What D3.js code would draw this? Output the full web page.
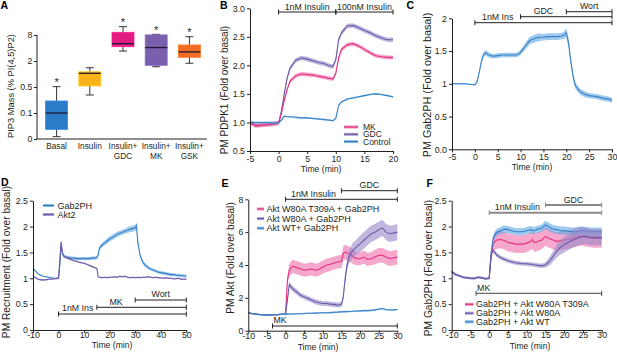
<!DOCTYPE html>
<html><head><meta charset="utf-8">
<script src="https://cdn.jsdelivr.net/npm/d3@7"></script>
<style>
body{margin:0;background:#fff;}
svg{display:block;}
</style></head><body>
<script>
// ---------------- DATA ----------------
// Panel A
const aCategories = ["Basal", "Insulin", "Insulin+|GDC", "Insulin+|MK", "Insulin+|GSK"];
const aWhiskerLow  = [0.009, 0.377, 4.3, 1.67, 1.87];
const aQ1          = [0.037, 0.56, 5.3, 1.75, 2.85];
const aMedian      = [0.10, 1.29, 6.0, 5.1, 4.1];
const aQ3          = [0.285, 1.38, 10.5, 8.1, 5.7];
const aWhiskerHigh = [0.52, 1.61, 15.7, 8.6, 7.6];
const aSignificant = [true, false, true, true, true];
const aYTicks      = [0, 0.1, 0.5, 2, 8];
const aYTickLabels = ["0", "0.1", "0.5", "2", "8"];

// Panel B
const bTime    = [-5,-4.5,-4,-3,-2,-1,0,0.5,1,1.5,2,3,4,5,6,7,8,9,9.5,10,10.5,11,12,13,14,15,16,17,18,19,20];
const bMK      = [1.00,0.97,0.94,0.95,0.96,0.97,0.99,1.16,1.39,1.58,1.72,1.82,1.85,1.84,1.83,1.81,1.79,1.77,1.76,1.86,2.13,2.28,2.36,2.38,2.34,2.28,2.22,2.17,2.15,2.14,2.14];
const bGDC     = [1.00,0.98,0.96,0.96,0.97,0.98,0.99,1.20,1.51,1.78,1.95,2.09,2.13,2.11,2.08,2.05,2.03,1.99,1.98,2.10,2.45,2.57,2.69,2.70,2.66,2.61,2.57,2.52,2.48,2.45,2.45];
const bControl = [1.00,1.00,1.00,1.00,1.00,0.99,0.99,1.04,1.11,1.10,1.10,1.09,1.08,1.08,1.07,1.06,1.05,1.04,1.03,1.07,1.30,1.36,1.41,1.43,1.45,1.47,1.49,1.50,1.49,1.47,1.45];
const bSem = {MK: 0.035, GDC: 0.04, Control: 0.015};
const bXTicks = [-5,0,5,10,15,20];
const bYTicks = [0.5,1.0,1.5,2.0,2.5,3.0];
const bYTickLabels = ["0.5","1.0","1.5","2.0","2.5","3.0"];
const bTreatments = [{label:"1nM Insulin", start:0, end:10}, {label:"100nM Insulin", start:10, end:20}];

// Panel C
const cTime    = [-5,-4,-3,-2,-1,-0.5,0,0.5,1,1.5,2,2.5,3,4,5,6,7,8,9,9.5,10,11,12,13,14,15,16,17,18,19,19.5,20,20.5,21,21.5,22,23,24,25,26,27,28,29,30];
const cGab2PH  = [1.00,1.00,1.00,1.00,0.99,0.99,0.985,1.035,1.19,1.36,1.46,1.47,1.44,1.42,1.43,1.44,1.44,1.44,1.44,1.45,1.48,1.57,1.66,1.69,1.71,1.71,1.72,1.72,1.72,1.73,1.74,1.78,1.62,1.34,1.11,0.97,0.88,0.84,0.82,0.81,0.80,0.78,0.77,0.75];
const cSem     = [0.01,0.01,0.01,0.01,0.01,0.01,0.01,0.02,0.03,0.04,0.04,0.04,0.04,0.035,0.035,0.035,0.035,0.035,0.035,0.035,0.04,0.05,0.06,0.06,0.06,0.05,0.05,0.05,0.05,0.05,0.06,0.07,0.07,0.06,0.05,0.05,0.045,0.045,0.04,0.04,0.04,0.04,0.04,0.04];
const cXTicks = [-5,0,5,10,15,20,25,30];
const cYTicks = [0,0.5,1,1.5,2];
const cYTickLabels = ["0.0","0.5","1","1.5","2"];
const cTreatments = [{label:"1nM Ins", start:0, end:30}, {label:"GDC", start:10, end:30}, {label:"Wort", start:20, end:30}];

// Panel D
const dTime    = [-10,-9,-8,-7,-6,-5,-4,-3,-2,-1,0,0.5,1,1.5,2,3,4,5,6,7,8,9,10,11,12,13,14,15,15.5,16,17,18,19,20,21,22,23,24,25,26,27,28,29,30,30.5,31,32,33,34,35,36,37,38,39,40,41,42,43,44,45,46,47,48,49,50];
const dGab2PH  = [1.20,1.14,1.09,1.06,1.04,1.03,1.02,1.01,1.00,1.00,1.01,1.25,1.64,1.48,1.43,1.41,1.40,1.39,1.39,1.38,1.38,1.38,1.38,1.38,1.38,1.39,1.39,1.40,1.45,1.58,1.64,1.68,1.72,1.76,1.79,1.82,1.85,1.87,1.89,1.91,1.93,1.95,1.96,1.97,2.02,1.70,1.43,1.31,1.25,1.21,1.18,1.16,1.14,1.12,1.11,1.10,1.09,1.08,1.07,1.07,1.06,1.06,1.05,1.05,1.04];
const dGab2PHSem = [0.01,0.01,0.01,0.01,0.01,0.01,0.01,0.01,0.01,0.01,0.01,0.03,0.03,0.03,0.03,0.03,0.03,0.03,0.03,0.03,0.03,0.03,0.03,0.03,0.03,0.03,0.03,0.03,0.04,0.04,0.04,0.045,0.05,0.05,0.05,0.05,0.05,0.05,0.05,0.05,0.055,0.055,0.06,0.06,0.07,0.05,0.04,0.04,0.035,0.035,0.03,0.03,0.03,0.03,0.03,0.03,0.03,0.03,0.03,0.03,0.03,0.03,0.03,0.03,0.03];
const dAkt2    = [1.05,1.01,0.98,0.97,0.97,0.97,0.98,0.98,0.99,0.99,1.00,1.35,1.71,1.50,1.43,1.40,1.38,1.36,1.34,1.33,1.31,1.30,1.29,1.27,1.25,1.23,1.21,1.19,1.03,1.02,1.01,1.02,1.01,1.02,1.02,1.03,1.02,1.04,1.03,1.04,1.02,1.01,1.02,1.01,1.01,1.02,1.01,1.02,1.02,1.03,1.02,1.01,1.02,1.01,1.01,1.00,1.01,1.00,1.00,0.99,0.99,1.00,0.98,0.98,0.98];
const dAkt2Sem = 0.015;
const dXTicks = [-10,0,10,20,30,40,50];
const dYTicks = [0,0.5,1,1.5,2,2.5];
const dYTickLabels = ["0","0.5","1","1.5","2","2.5"];
const dTreatments = [{label:"1nM Ins", start:0, end:50}, {label:"MK", start:15, end:50}, {label:"Wort", start:30, end:50}];

// Panel E
const eTime    = [-10,-9,-8,-7,-6,-5,-4,-3,-2,-1,0,0.5,1,1.5,2,3,4,5,6,7,8,9,10,11,12,13,14,15,15.5,16,16.5,17,18,19,20,21,22,23,24,25,26,27,28,29,30];
const eT309A   = [1.08,1.04,1.01,0.99,0.97,0.95,0.96,0.97,0.98,1.00,1.01,3.07,3.68,3.84,3.92,3.84,3.76,3.68,3.72,3.76,3.68,3.74,3.88,3.98,4.04,4.12,4.18,4.22,4.69,4.79,4.74,4.69,4.53,4.38,4.38,4.48,4.34,4.38,4.48,4.59,4.59,4.48,4.38,4.44,4.48];
const eT309ASem = [0.03,0.03,0.03,0.03,0.03,0.03,0.03,0.03,0.03,0.03,0.03,0.3,0.35,0.4,0.4,0.4,0.4,0.4,0.4,0.4,0.4,0.4,0.4,0.4,0.4,0.4,0.4,0.4,0.45,0.45,0.45,0.45,0.45,0.4,0.4,0.4,0.4,0.4,0.45,0.45,0.45,0.45,0.45,0.45,0.45];
const eW80A    = [1.08,1.04,1.01,0.99,0.97,0.95,0.96,0.97,0.98,1.00,1.01,1.86,2.81,2.67,2.53,2.36,2.16,2.06,1.96,1.86,1.76,1.70,1.66,1.66,1.62,1.60,1.56,1.60,2.06,3.17,3.98,4.48,4.89,5.09,5.29,5.49,5.70,5.90,6.00,6.14,6.26,6.00,5.90,5.94,6.00];
const eW80ASem = [0.03,0.03,0.03,0.03,0.03,0.03,0.03,0.03,0.03,0.03,0.03,0.15,0.18,0.18,0.18,0.17,0.16,0.15,0.15,0.15,0.15,0.15,0.15,0.15,0.15,0.15,0.15,0.15,0.2,0.3,0.35,0.4,0.45,0.45,0.5,0.5,0.5,0.5,0.5,0.5,0.5,0.5,0.5,0.5,0.5];
const eWT      = [1.09,1.05,1.01,0.98,0.96,0.95,0.96,0.97,0.98,1.00,1.01,1.01,1.02,1.02,1.02,1.03,1.03,1.05,1.06,1.06,1.07,1.08,1.09,1.09,1.10,1.12,1.13,1.15,1.15,1.16,1.16,1.17,1.18,1.20,1.21,1.22,1.22,1.24,1.27,1.31,1.35,1.28,1.26,1.27,1.29];
const eWTSem = 0.05;
const eXTicks = [-10,-5,0,5,10,15,20,25,30];
const eYTicks = [0,2,4,6,8];
const eYTickLabels = ["0","2","4","6","8"];
const eTreatments = [{label:"1nM Insulin", start:0, end:30}, {label:"GDC", start:15, end:30}];
const eInhibitor  = {label:"MK", start:-3.5, end:30};

// Panel F
const fTime    = [-10,-9,-8,-7,-6,-5,-4,-3,-2,-1,0,0.5,1,1.5,2,3,4,5,6,7,8,9,10,11,11.5,12,13,14,15,16,17,18,19,20,21,22,23,24,25,26,27,28,29,30];
const fT309A   = [1.12,1.08,1.05,1.02,1.01,1.00,1.00,1.02,1.01,0.99,1.00,1.42,1.65,1.71,1.74,1.75,1.73,1.69,1.68,1.66,1.66,1.66,1.68,1.71,1.75,1.69,1.71,1.74,1.81,1.77,1.74,1.71,1.73,1.74,1.75,1.77,1.79,1.81,1.81,1.79,1.78,1.77,1.77,1.77];
const fT309ASem = [0.02,0.02,0.02,0.02,0.02,0.02,0.02,0.02,0.02,0.02,0.02,0.12,0.15,0.16,0.17,0.17,0.17,0.17,0.17,0.17,0.17,0.17,0.17,0.17,0.18,0.18,0.18,0.18,0.18,0.18,0.18,0.18,0.18,0.18,0.18,0.18,0.18,0.18,0.18,0.18,0.18,0.18,0.18,0.18];
const fW80A    = [1.12,1.07,1.05,1.02,1.01,1.00,0.99,1.02,1.01,0.99,1.00,1.45,1.54,1.50,1.45,1.40,1.37,1.34,1.32,1.30,1.29,1.28,1.28,1.27,1.27,1.26,1.25,1.24,1.26,1.32,1.42,1.52,1.60,1.65,1.69,1.73,1.76,1.79,1.81,1.81,1.79,1.79,1.79,1.79];
const fW80ASem = [0.02,0.02,0.02,0.02,0.02,0.02,0.02,0.02,0.02,0.02,0.02,0.04,0.04,0.04,0.04,0.04,0.04,0.04,0.04,0.04,0.04,0.04,0.04,0.04,0.04,0.04,0.04,0.04,0.05,0.08,0.1,0.12,0.14,0.15,0.15,0.15,0.15,0.15,0.15,0.15,0.15,0.15,0.15,0.15];
const fWT      = [1.13,1.08,1.05,1.02,1.01,1.00,1.00,1.02,1.01,0.99,1.00,1.48,1.74,1.84,1.89,1.92,1.95,1.94,1.92,1.90,1.90,1.90,1.92,1.94,1.93,1.92,1.95,1.97,2.03,1.99,1.95,1.94,1.92,1.92,1.91,1.90,1.90,1.92,1.92,1.91,1.90,1.90,1.90,1.90];
const fWTSem   = [0.02,0.02,0.02,0.02,0.02,0.02,0.02,0.02,0.02,0.02,0.02,0.06,0.07,0.07,0.07,0.07,0.07,0.07,0.07,0.07,0.07,0.07,0.07,0.07,0.07,0.07,0.07,0.07,0.08,0.08,0.08,0.08,0.08,0.08,0.08,0.08,0.08,0.08,0.08,0.08,0.08,0.08,0.08,0.08];
const fXTicks = [-10,-5,0,5,10,15,20,25,30];
const fYTicks = [0,0.5,1,1.5,2,2.5];
const fYTickLabels = ["0","0.5","1","1.5","2","2.5"];
const fTreatments = [{label:"1nM Insulin", start:0, end:30}, {label:"GDC", start:15, end:30}];
const fInhibitor  = {label:"MK", start:-3.5, end:30};

// ---------------- DRAWING ----------------
const FONT = '"Liberation Sans", Arial, Helvetica, sans-serif';
const INK = "#231f20";
const BLUE = {line:"#3a80c6", band:"#5ea6e3"};
const PINK = {line:"#e4307f", band:"#ef6ea8"};
const PURP = {line:"#6c5aa8", band:"#9787c8"};

const svg = d3.select("body").append("svg").attr("width", 617).attr("height", 353)
  .style("font-family", FONT);

const fmt = d => (d < 0 ? "-" + Math.abs(d) : String(d));

function styleAxis(g, fs) {
  g.attr("font-family", FONT).attr("font-size", fs);
  g.selectAll("path.domain").attr("stroke", INK).attr("stroke-width", 1);
  g.selectAll(".tick line").attr("stroke", INK);
  g.selectAll(".tick text").attr("fill", INK);
}

function panelLetter(t, x, y) {
  svg.append("text").attr("x", x).attr("y", y).attr("font-size", 10.5).attr("font-weight", "bold")
    .attr("fill", "#000").text(t);
}

function yTitle(t, x, cy, fs) {
  svg.append("text").attr("transform", `translate(${x},${cy}) rotate(-90)`).attr("text-anchor", "middle")
    .attr("font-size", fs).attr("fill", INK).text(t);
}
function xTitle(t, cx, y, fs) {
  svg.append("text").attr("x", cx).attr("y", y).attr("text-anchor", "middle")
    .attr("font-size", fs).attr("fill", INK).text(t);
}

function treatBar(g, x1, x2, y, color, w) {
  g.append("line").attr("x1", x1).attr("x2", x2).attr("y1", y).attr("y2", y).attr("stroke", color).attr("stroke-width", w);
  [x1, x2].forEach(xx => g.append("line").attr("x1", xx).attr("x2", xx).attr("y1", y - 2.5).attr("y2", y + 2.5)
    .attr("stroke", color).attr("stroke-width", 1));
}

function timePanel(p) {
  const x = d3.scaleLinear().domain(p.xDomain).range(p.xRange);
  const y = d3.scaleLinear().domain(p.yDomain).range(p.yRange);
  const g = svg.append("g");
  const area = d3.area().x(d => x(d.t)).y0(d => y(d.v - d.e)).y1(d => y(d.v + d.e));
  const line = d3.line().x(d => x(d.t)).y(d => y(d.v));
  p.series.forEach(s => {
    const pts = s.t.map((t, i) => ({t, v: s.v[i], e: Array.isArray(s.e) ? s.e[i] : s.e}));
    g.append("path").attr("d", area(pts)).attr("fill", s.c.band).attr("fill-opacity", s.op || 0.6);
    g.append("path").attr("d", line(pts)).attr("fill", "none").attr("stroke", s.c.line).attr("stroke-width", 1.1);
  });
  g.append("g").attr("transform", `translate(0,${p.yRange[0]})`)
    .call(d3.axisBottom(x).tickValues(p.xTicks).tickFormat(fmt).tickSize(3).tickSizeOuter(0).tickPadding(p.xPad))
    .call(styleAxis, 8.8);
  g.append("g").attr("transform", `translate(${p.xRange[0]},0)`)
    .call(d3.axisLeft(y).tickValues(p.yTicks).tickFormat((d, i) => p.yTickLabels[i]).tickSize(3).tickSizeOuter(0).tickPadding(2))
    .call(styleAxis, 8.8);
  return {x, y, g};
}

function legend(g, items, x1, x2, tx, rows, fs) {
  items.forEach((it, i) => {
    g.append("line").attr("x1", x1).attr("x2", x2).attr("y1", rows[i]).attr("y2", rows[i])
      .attr("stroke", it.c.band).attr("stroke-width", 3).attr("stroke-opacity", 0.8);
    g.append("line").attr("x1", x1).attr("x2", x2).attr("y1", rows[i]).attr("y2", rows[i])
      .attr("stroke", it.c.line).attr("stroke-width", 1.1);
    g.append("text").attr("x", tx).attr("y", rows[i] + 3.1).attr("font-size", fs).attr("fill", INK).text(it.label);
  });
}

// ---- Panel A ----
(function () {
  const colors = ["#2b7cc7", "#f8b31b", "#e21c80", "#7a5fae", "#f26b22"];
  const y = d3.scaleLinear().domain([0, 0.1, 0.5, 2, 8, 32]).range([139, 113, 87, 61, 35, 9]);
  const x = d3.scalePoint().domain(aCategories).range([40, 206]).padding(0.5);
  const g = svg.append("g");
  const bw = 22, cap = 8;
  aCategories.forEach((c, i) => {
    const cx = x(c);
    g.append("line").attr("x1", cx).attr("x2", cx).attr("y1", y(aWhiskerLow[i])).attr("y2", y(aWhiskerHigh[i]))
      .attr("stroke", "#333").attr("stroke-width", 1);
    [aWhiskerLow[i], aWhiskerHigh[i]].forEach(v => g.append("line").attr("x1", cx - cap / 2).attr("x2", cx + cap / 2)
      .attr("y1", y(v)).attr("y2", y(v)).attr("stroke", "#333").attr("stroke-width", 1));
    g.append("rect").attr("x", cx - bw / 2).attr("width", bw).attr("y", y(aQ3[i])).attr("height", y(aQ1[i]) - y(aQ3[i]))
      .attr("fill", colors[i]).attr("stroke", d3.color(colors[i]).brighter(0.4)).attr("stroke-width", 0.8);
    g.append("line").attr("x1", cx - bw / 2).attr("x2", cx + bw / 2).attr("y1", y(aMedian[i])).attr("y2", y(aMedian[i]))
      .attr("stroke", "#1f1a33").attr("stroke-width", 1.3);
    if (aSignificant[i]) g.append("text").attr("x", cx).attr("y", y(aWhiskerHigh[i]) - 0.5).attr("text-anchor", "middle")
      .attr("font-size", 11).attr("fill", INK).text("*");
    c.split("|").forEach((ln, k) => g.append("text").attr("x", cx).attr("y", 149 + k * 9.5).attr("text-anchor", "middle")
      .attr("font-size", 8.3).attr("fill", INK).text(ln));
  });
  g.append("g").attr("transform", "translate(37,0)")
    .call(d3.axisLeft(y).tickValues(aYTicks).tickFormat((d, i) => aYTickLabels[i]).tickSize(3).tickSizeOuter(0).tickPadding(1.5))
    .call(styleAxis, 8.8)
    .select("path.domain").attr("d", `M0,${y(8)}V${y(0)}`);
  g.append("line").attr("x1", 37).attr("x2", 207).attr("y1", 139).attr("y2", 139).attr("stroke", INK);
  yTitle("PIP3 Mass (% PI(4,5)P2)", 13.5, 86, 9.3);
  panelLetter("A", 0.5, 8.5);
})();

// ---- Panel B ----
(function () {
  const P = timePanel({xDomain: [-5, 20], xRange: [250, 393], yDomain: [0.5, 3.0], yRange: [151, 8.3],
    xTicks: bXTicks, yTicks: bYTicks, yTickLabels: bYTickLabels, xPad: 2.2,
    series: [
      {t: bTime, v: bGDC, e: bSem.GDC, c: PURP},
      {t: bTime, v: bMK, e: bSem.MK, c: PINK},
      {t: bTime, v: bControl, e: bSem.Control, c: BLUE}
    ]});
  bTreatments.forEach(tr => {
    treatBar(P.g, P.x(tr.start), P.x(tr.end), 12, INK, 1);
    P.g.append("text").attr("x", P.x((tr.start + tr.end) / 2)).attr("y", 9.5).attr("text-anchor", "middle")
      .attr("font-size", 8.8).attr("fill", INK).text(tr.label);
  });
  legend(P.g, [{label: "MK", c: PINK}, {label: "GDC", c: PURP}, {label: "Control", c: BLUE}], 344, 358, 363, [127, 134.3, 141.6], 8.5);
  yTitle("PM PDPK1 (Fold over basal)", 228, 90, 10);
  xTitle("Time (min)", 321, 171.5, 8.6);
  panelLetter("B", 220, 8.5);
})();

// ---- Panel C ----
(function () {
  const P = timePanel({xDomain: [-5, 30], xRange: [452, 612], yDomain: [0, 2], yRange: [149.3, 18.3],
    xTicks: cXTicks, yTicks: cYTicks, yTickLabels: cYTickLabels, xPad: 1,
    series: [{t: cTime, v: cGab2PH, e: cSem, c: BLUE}]});
  const levels = [22.7, 16.7, 11.7];
  cTreatments.forEach((tr, i) => {
    treatBar(P.g, P.x(tr.start), P.x(tr.end), levels[i], INK, 1);
    const next = i < cTreatments.length - 1 ? cTreatments[i + 1].start : tr.end;
    P.g.append("text").attr("x", P.x((tr.start + next) / 2)).attr("y", levels[i] - 2.6).attr("text-anchor", "middle")
      .attr("font-size", 8.8).attr("fill", INK).text(tr.label);
  });
  yTitle("PM Gab2PH (Fold over basal)", 430.5, 85, 10.8);
  xTitle("Time (min)", 532, 169.5, 8.6);
  panelLetter("C", 406.5, 9);
})();

// ---- Panel D ----
(function () {
  const P = timePanel({xDomain: [-10, 50], xRange: [33, 186.3], yDomain: [0, 2.5], yRange: [330, 200.7],
    xTicks: dXTicks, yTicks: dYTicks, yTickLabels: dYTickLabels, xPad: -1.3,
    series: [
      {t: dTime, v: dGab2PH, e: dGab2PHSem, c: BLUE},
      {t: dTime, v: dAkt2, e: dAkt2Sem, c: PURP}
    ]});
  const levels = [314, 307.3, 300];
  dTreatments.forEach((tr, i) => {
    treatBar(P.g, P.x(tr.start), P.x(tr.end), levels[i], INK, 1);
    const next = i < dTreatments.length - 1 ? dTreatments[i + 1].start : tr.end;
    P.g.append("text").attr("x", P.x((tr.start + next) / 2)).attr("y", levels[i] - 2.6).attr("text-anchor", "middle")
      .attr("font-size", 8.8).attr("fill", INK).text(tr.label);
  });
  legend(P.g, [{label: "Gab2PH", c: BLUE}, {label: "Akt2", c: PURP}], 43, 54, 57.5, [205.5, 214.5], 9);
  yTitle("PM Recruitment (Fold over basal)", 9.5, 262, 10.2);
  xTitle("Time (min)", 112, 348.3, 8.6);
  panelLetter("D", 1, 185.5);
})();

// ---- Panel E ----
(function () {
  const P = timePanel({xDomain: [-10, 30], xRange: [248.3, 397.3], yDomain: [0, 8], yRange: [330.7, 199.3],
    xTicks: eXTicks, yTicks: eYTicks, yTickLabels: eYTickLabels, xPad: -1,
    series: [
      {t: eTime, v: eT309A, e: eT309ASem, c: PINK},
      {t: eTime, v: eW80A, e: eW80ASem, c: PURP},
      {t: eTime, v: eWT, e: eWTSem, c: BLUE}
    ]});
  const levels = [199.3, 190.7];
  eTreatments.forEach((tr, i) => {
    treatBar(P.g, P.x(tr.start), P.x(tr.end), levels[i], INK, 1);
    const next = i < eTreatments.length - 1 ? eTreatments[i + 1].start : tr.end;
    P.g.append("text").attr("x", P.x((tr.start + next) / 2)).attr("y", levels[i] - 2.6).attr("text-anchor", "middle")
      .attr("font-size", 8.8).attr("fill", INK).text(tr.label);
  });
  treatBar(P.g, P.x(eInhibitor.start), P.x(eInhibitor.end), 326, INK, 1);
  P.g.append("text").attr("x", P.x(eInhibitor.start) + 1).attr("y", 323.4).attr("font-size", 8.8).attr("fill", INK).text(eInhibitor.label);
  legend(P.g, [{label: "Akt W80A T309A + Gab2PH", c: PINK}, {label: "Akt W80A + Gab2PH", c: PURP}, {label: "Akt WT+ Gab2PH", c: BLUE}],
    257, 264, 266.5, [209, 218.6, 228.2], 9);
  yTitle("PM Akt (Fold over basal)", 234, 258, 10.2);
  xTitle("Time (min)", 318, 349.5, 8.6);
  panelLetter("E", 221.5, 186.5);
})();

// ---- Panel F ----
(function () {
  const P = timePanel({xDomain: [-10, 30], xRange: [451.7, 601.7], yDomain: [0, 2.5], yRange: [330, 200.7],
    xTicks: fXTicks, yTicks: fYTicks, yTickLabels: fYTickLabels, xPad: -1.3,
    series: [
      {t: fTime, v: fT309A, e: fT309ASem, c: PINK},
      {t: fTime, v: fWT, e: fWTSem, c: BLUE},
      {t: fTime, v: fW80A, e: fW80ASem, c: PURP}
    ]});
  const levels = [212.7, 205];
  fTreatments.forEach((tr, i) => {
    treatBar(P.g, P.x(tr.start), P.x(tr.end), levels[i], "#8a8a8a", 2);
    const next = i < fTreatments.length - 1 ? fTreatments[i + 1].start : tr.end;
    P.g.append("text").attr("x", P.x((tr.start + next) / 2)).attr("y", levels[i] - 2.4).attr("text-anchor", "middle")
      .attr("font-size", 8.8).attr("fill", INK).text(tr.label);
  });
  treatBar(P.g, P.x(fInhibitor.start), P.x(fInhibitor.end), 293.3, "#444", 1);
  P.g.append("text").attr("x", P.x(fInhibitor.start) + 1).attr("y", 291).attr("font-size", 8.8).attr("fill", INK).text(fInhibitor.label);
  legend(P.g, [{label: "Gab2PH + Akt W80A T309A", c: PINK}, {label: "Gab2PH + Akt W80A", c: PURP}, {label: "Gab2PH + Akt WT", c: BLUE}],
    465, 473.5, 476, [304.3, 313.2, 321.8], 9);
  yTitle("PM Gab2PH (Fold over basal)", 431.5, 268, 10.2);
  xTitle("Time (min)", 530, 348.5, 8.6);
  panelLetter("F", 426.5, 186.5);
})();
</script>
</body></html>
